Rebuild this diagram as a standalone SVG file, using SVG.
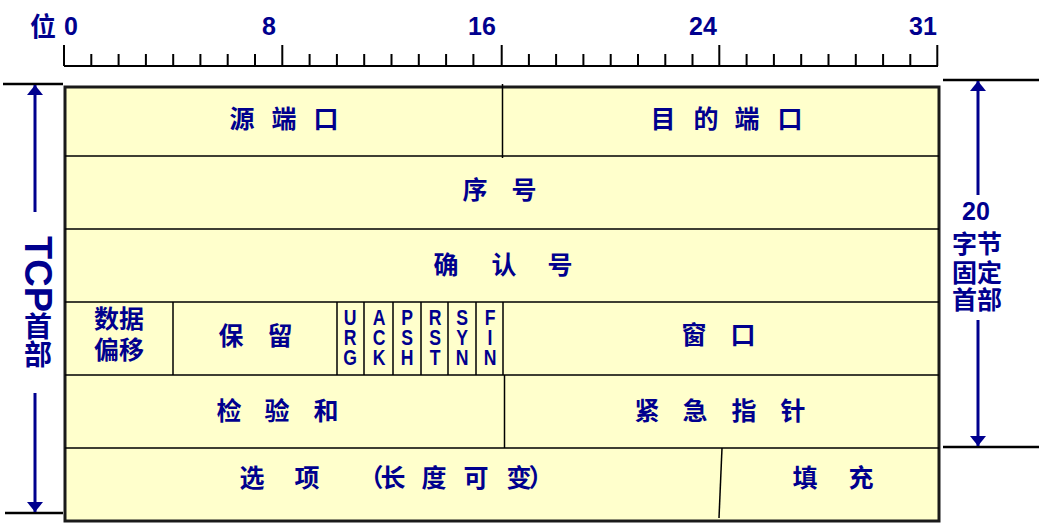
<svg xmlns="http://www.w3.org/2000/svg" width="1039" height="530" viewBox="0 0 1039 530">
<style>
.t{font-family:"Noto Sans CJK SC","Liberation Sans",sans-serif;font-weight:700;font-size:25px;fill:#00008e;text-anchor:middle;dominant-baseline:central}
.n{font-family:"Liberation Sans",Arial,sans-serif;font-weight:700;font-size:25px;fill:#00008e}
.fv{font-family:"Liberation Sans",Arial,sans-serif;font-weight:700;font-size:22px;fill:#00008e;writing-mode:vertical-rl;text-orientation:upright;letter-spacing:-4px}
.ln{stroke:#000;stroke-width:1.5;fill:none}
.rl{stroke:#000;stroke-width:2;fill:none}
.ar{stroke:#00008e;stroke-width:3;fill:none}
</style>
<defs>
<marker id="ah" viewBox="0 0 10 16" refX="10" refY="8" markerWidth="10" markerHeight="16" markerUnits="userSpaceOnUse" orient="auto">
<path d="M0,0 L10,8 L0,16 Z" fill="#00008e"/>
</marker>
</defs>
<rect width="1039" height="530" fill="#fff"/>

<g id="ruler">
<text class="t" x="43" y="24" style="font-size:26px">位</text>
<text class="n" x="64" y="35">0</text>
<text class="n" x="262" y="35">8</text>
<text class="n" x="468" y="35">16</text>
<text class="n" x="689" y="35">24</text>
<text class="n" x="909" y="35">31</text>
<path class="rl" d="M64,66 H938"/>
<path class="rl" d="M64,45V66M282.3,45V66M501.7,45V66M719.3,45V66M937.3,45V66"/>
<path class="rl" d="M91.3,54V66M118.6,54V66M145.9,54V66M173.2,54V66M200.4,54V66M227.7,54V66M255,54V66M309.6,54V66M336.9,54V66M364.2,54V66M391.5,54V66M418.8,54V66M446.1,54V66M473.4,54V66M528.9,54V66M556.1,54V66M583.4,54V66M610.7,54V66M638,54V66M665.3,54V66M692.5,54V66M746.6,54V66M773.9,54V66M801.2,54V66M828.5,54V66M855.8,54V66M883.1,54V66M910.3,54V66"/>
</g>

<g id="header-box">
<rect x="65" y="87" width="874" height="434" fill="#ffffcc" stroke="#1a1a1a" stroke-width="3"/>
<path class="ln" d="M65,156H939M65,229H939M65,302H939M65,375H939M65,448H939"/>
</g>

<g id="src-port"><text class="t" x="242 284 326" y="117">源端口</text></g>
<g id="dst-port"><path class="ln" d="M502.5,84V158"/><text class="t" x="663 706 747 790" y="117">目的端口</text></g>
<g id="seq"><text class="t" x="475 524" y="188">序号</text></g>
<g id="ack-num"><text class="t" x="446 504 560" y="263">确认号</text></g>
<g id="data-offset"><path class="ln" d="M173,302V375"/><text class="t"><tspan x="119" y="317">数据</tspan><tspan x="119" y="348">偏移</tspan></text></g>
<g id="reserved"><path class="ln" d="M337,302V375"/><text class="t" x="231 280" y="334">保留</text></g>
<g id="flags">
<path class="ln" d="M364,302V375M393,302V375M421,302V375M448,302V375M476,302V375M503,302V375"/>
<g transform="translate(350,0) scale(0.8,1)"><text class="fv" x="0" y="305">URG</text></g>
<g transform="translate(379,0) scale(0.8,1)"><text class="fv" x="0" y="305">ACK</text></g>
<g transform="translate(407,0) scale(0.8,1)"><text class="fv" x="0" y="305">PSH</text></g>
<g transform="translate(435,0) scale(0.8,1)"><text class="fv" x="0" y="305">RST</text></g>
<g transform="translate(462,0) scale(0.8,1)"><text class="fv" x="0" y="305">SYN</text></g>
<g transform="translate(490,0) scale(0.8,1)"><text class="fv" x="0" y="305">FIN</text></g>
</g>
<g id="window"><text class="t" x="694 743" y="333">窗口</text></g>
<g id="checksum"><path class="ln" d="M504.5,375V448"/><text class="t" x="229 277 326" y="409">检验和</text></g>
<g id="urgent"><text class="t" x="647 695 744 793" y="409">紧急指针</text></g>
<g id="options"><text class="t" x="252 307 371 393 434 476 519 541" y="476">选项（长度可变）</text></g>
<g id="padding"><path class="ln" d="M722,448L719,518"/><text class="t" x="805 861" y="476">填充</text></g>

<g id="left-label">
<text x="38" y="236" style="font-family:'Liberation Sans','Noto Sans CJK SC',sans-serif;font-weight:700;fill:#00008e;writing-mode:vertical-rl"><tspan style="font-size:38px">TCP</tspan><tspan style="font-family:'Noto Sans CJK SC',sans-serif;font-size:28px">首部</tspan></text>
</g>
<g id="right-label">
<text class="n" x="976" y="220" text-anchor="middle">20</text>
<text class="t"><tspan x="977" y="242">字节</tspan><tspan x="977" y="271">固定</tspan><tspan x="977" y="298">首部</tspan></text>
</g>

<g id="connectors">
<path class="rl" d="M3,84H63M5,513H63M943,80H1039M943,447H1039" style="stroke-width:2.5"/>
<path class="ar" d="M35,212V85" marker-end="url(#ah)"/>
<path class="ar" d="M35,393V512" marker-end="url(#ah)"/>
<path class="ar" d="M978,195V81" marker-end="url(#ah)"/>
<path class="ar" d="M978,320V446" marker-end="url(#ah)"/>
</g>
</svg>
